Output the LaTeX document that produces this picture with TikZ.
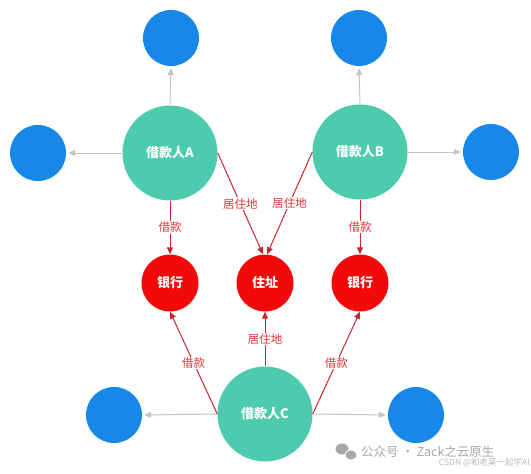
\documentclass[tikz,border=0pt]{standalone}
\usepackage{fontspec}
\setmainfont{Noto Sans CJK SC}
\newfontfamily\cjk{Noto Sans CJK SC}
\usetikzlibrary{arrows.meta}
\definecolor{teal1}{HTML}{4CCBAE}
\definecolor{blue1}{HTML}{1788E8}
\definecolor{red1}{HTML}{F20A0A}
\definecolor{redline}{HTML}{C8282C}
\definecolor{redtext}{HTML}{E0333A}
\definecolor{grayline}{HTML}{C4C4C4}
\definecolor{wm}{HTML}{A8A8A8}
\begin{document}
\begin{tikzpicture}[x=1pt,y=-1pt,
  person/.style={circle,fill=teal1,minimum size=95pt,inner sep=0pt,text=white,font=\cjk\bfseries\fontsize{13}{15}\selectfont},
  leaf/.style={circle,fill=blue1,minimum size=56pt,inner sep=0pt},
  target/.style={circle,fill=red1,minimum size=57pt,inner sep=0pt,text=white,font=\cjk\bfseries\fontsize{13}{15}\selectfont},
  grayarrow/.style={draw=grayline,line width=1pt,-{Triangle[length=7pt,width=6pt]},shorten >=2pt},
  redarrow/.style={draw=redline,line width=1pt,-{Triangle[length=7pt,width=6pt]}},
  lab/.style={fill=white,inner sep=1pt,text=redtext,font=\cjk\fontsize{11.5}{13}\selectfont}]
\useasboundingbox (0,0) rectangle (531,474);
\fill[white] (0,0) rectangle (531,474);
% persons
\node[person] (A) at (170,153) {借款人A};
\node[person] (B) at (360,152) {借款人B};
\node[person] (C) at (265,414) {借款人C};
% leaves
\node[leaf] (At) at (171,38) {};
\node[leaf] (Al) at (38,153) {};
\node[leaf] (Bt) at (359,38) {};
\node[leaf] (Br) at (491,152) {};
\node[leaf] (Cl) at (114,415) {};
\node[leaf] (Cr) at (416,415) {};
% targets
\node[target] (bank1) at (170,283) {银行};
\node[target] (addr) at (265,283) {住址};
\node[target] (bank2) at (360,283) {银行};
% gray arrows
\draw[grayarrow] (A.north) -- (At.south);
\draw[grayarrow] (A.west) -- (Al.east);
\draw[grayarrow] (B.north) -- (Bt.south);
\draw[grayarrow] (B.east) -- (Br.west);
\draw[grayarrow] (C.west) -- (Cl.east);
\draw[grayarrow] (C.east) -- (Cr.west);
% red arrows
\draw[redarrow] (A.south) -- node[lab,pos=0.5]{借款} (bank1.north);
\coordinate (addrL) at ([xshift=-2pt]addr.north);
\coordinate (addrR) at ([xshift=2pt]addr.north);
\draw[redarrow] (A.east) -- node[lab,pos=0.5]{居住地} (addrL);
\draw[redarrow] (B.west) -- node[lab,pos=0.5]{居住地} (addrR);
\draw[redarrow] (B.south) -- node[lab,pos=0.5]{借款} (bank2.north);
\draw[redarrow] (C.west) -- node[lab,pos=0.5]{借款} (bank1.south);
\draw[redarrow] (C.north) -- node[lab,pos=0.5]{居住地} (addr.south);
\draw[redarrow] (C.east) -- node[lab,pos=0.5]{借款} (bank2.south);
% watermark
\fill[wm] (342,449) ellipse (6.5pt and 5.5pt);
\fill[white] (351,455) ellipse (6.5pt and 5.5pt);
\fill[wm] (351,455) ellipse (5.5pt and 4.6pt);
\node[anchor=west,text=wm,inner sep=0pt,font=\cjk\fontsize{12.5}{15}\selectfont] (wm1) at (361,452) {公众号 · Zack之云原生};
\node[anchor=east,text=wm!80,inner sep=0pt,font=\cjk\fontsize{8.5}{10}\selectfont] (wm2) at (530,463) {CSDN @和老莫一起学AI};
\end{tikzpicture}
\end{document}
